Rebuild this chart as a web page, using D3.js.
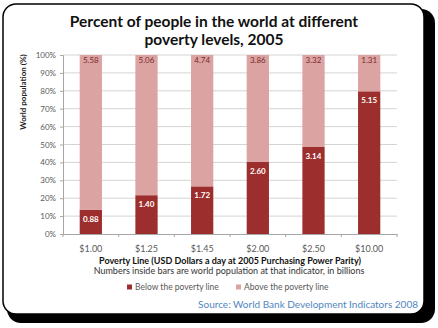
<!DOCTYPE html>
<html><head><meta charset="utf-8">
<script src="https://cdn.jsdelivr.net/npm/d3@7"></script>
<style>
html,body{margin:0;padding:0;background:#fff;}
svg{display:block;}
text{font-family:Lato,"Open Sans",sans-serif;}
</style></head>
<body>
<svg id="c" width="438" height="328"></svg>
<script>
const categories = ["$1.00","$1.25","$1.45","$2.00","$2.50","$10.00"];
const belowValues = [0.88,1.40,1.72,2.60,3.14,5.15];
const aboveValues = [5.58,5.06,4.74,3.86,3.32,1.31];
const yTicks = [0,0.1,0.2,0.3,0.4,0.5,0.6,0.7,0.8,0.9,1.0];
const seriesNames = ["Below the poverty line","Above the poverty line"];
const colors = ["#9c2f2e","#dca3a3"];

const svg = d3.select("#c");

// frame: shadow + panel
svg.append("rect").attr("x",7).attr("y",9).attr("width",428).attr("height",314)
  .attr("rx",14).attr("fill","#000");
svg.append("rect").attr("x",3).attr("y",4).attr("width",421).attr("height",310)
  .attr("rx",13).attr("fill","#fff").attr("stroke","#000").attr("stroke-width",1.5);

// title
svg.append("text").attr("x",214).attr("y",27).attr("text-anchor","middle")
  .attr("font-size",15.5).attr("font-weight","bold").attr("fill","#111")
  .text("Percent of people in the world at different");
svg.append("text").attr("x",214).attr("y",45).attr("text-anchor","middle")
  .attr("font-size",15.5).attr("font-weight","bold").attr("fill","#111")
  .text("poverty levels, 2005");

const table = categories.map((c,i)=>({cat:c, below:belowValues[i], above:aboveValues[i]}));
const stack = d3.stack().keys(["below","above"]).offset(d3.stackOffsetExpand);
const series = stack(table);

const x = d3.scaleBand().domain(categories).range([63,397]).paddingInner(0.6).paddingOuter(0.3);
const y = d3.scaleLinear().domain([0,1]).range([234,55]);

// gridlines
svg.append("g").selectAll("line").data(yTicks.slice(1)).join("line")
  .attr("x1",63).attr("x2",397).attr("y1",d=>y(d)).attr("y2",d=>y(d))
  .attr("stroke","#d4d4d4").attr("stroke-width",1);

// y axis
const yAxis = svg.append("g").attr("transform","translate(63,0)")
  .call(d3.axisLeft(y).tickValues(yTicks).tickFormat(d3.format(".0%")).tickSize(3).tickPadding(4));
yAxis.select(".domain").attr("stroke","#a6a6a6");
yAxis.selectAll(".tick line").attr("stroke","#a6a6a6");
yAxis.selectAll("text").attr("font-size",8).attr("fill","#595959").attr("font-family","Lato,sans-serif");

// bars
svg.append("g").selectAll("g").data(series).join("g").attr("fill",(d,i)=>colors[i])
  .selectAll("rect").data(d=>d).join("rect")
  .attr("x",d=>x(d.data.cat)).attr("width",x.bandwidth())
  .attr("y",d=>y(d[1])).attr("height",d=>y(d[0])-y(d[1]));

// x axis
const xAxis = svg.append("g").attr("transform","translate(0,234)")
  .call(d3.axisBottom(x).tickSize(0).tickPadding(12));
xAxis.select(".domain").attr("stroke","#a6a6a6");
xAxis.selectAll("text").attr("font-size",9).attr("fill","#595959").attr("font-family","Lato,sans-serif");
// band boundary ticks
svg.append("g").selectAll("line").data(d3.range(categories.length+1)).join("line")
  .attr("x1",i=>63+i*x.step()).attr("x2",i=>63+i*x.step())
  .attr("y1",234).attr("y2",237).attr("stroke","#a6a6a6");

// labels below (white, inside dark bar near top)
svg.append("g").selectAll("text").data(series[0]).join("text")
  .attr("x",d=>x(d.data.cat)+x.bandwidth()/2).attr("y",d=>y(d[1])+12)
  .attr("text-anchor","middle").attr("font-size",8).attr("font-weight","bold").attr("fill","#fff")
  .text((d,i)=>belowValues[i].toFixed(2));
// labels above (dark, at top of pink bar)
svg.append("g").selectAll("text").data(series[1]).join("text")
  .attr("x",d=>x(d.data.cat)+x.bandwidth()/2).attr("y",d=>y(d[1])+8)
  .attr("text-anchor","middle").attr("font-size",8).attr("fill","#7a2a2a")
  .text((d,i)=>aboveValues[i].toFixed(2));

// y title
svg.append("text").attr("transform","translate(26,92) rotate(-90)")
  .attr("text-anchor","middle").attr("font-size",8).attr("font-weight","bold").attr("fill","#222")
  .text("World population (%)");

// x titles
svg.append("text").attr("x",230).attr("y",264).attr("text-anchor","middle")
  .attr("font-size",9).attr("font-weight","bold").attr("fill","#111")
  .text("Poverty Line (USD Dollars a day at 2005 Purchasing Power Parity)");
svg.append("text").attr("x",229).attr("y",274).attr("text-anchor","middle")
  .attr("font-size",9).attr("fill","#333")
  .text("Numbers inside bars are world population at that indicator, in billions");

// legend
const lx = [127,236];
const lg = svg.append("g").selectAll("g").data(seriesNames).join("g")
  .attr("transform",(d,i)=>`translate(${lx[i]},287)`);
lg.append("rect").attr("x",0).attr("y",-2.5).attr("width",5).attr("height",5).attr("fill",(d,i)=>colors[i]);
lg.append("text").attr("x",8).attr("y",3).attr("font-size",8.5).attr("fill","#595959").text(d=>d);

// source
svg.append("text").attr("x",418).attr("y",308).attr("text-anchor","end")
  .attr("font-size",10).attr("fill","#4f86c0")
  .text("Source: World Bank Development Indicators 2008");
</script>
</body></html>
